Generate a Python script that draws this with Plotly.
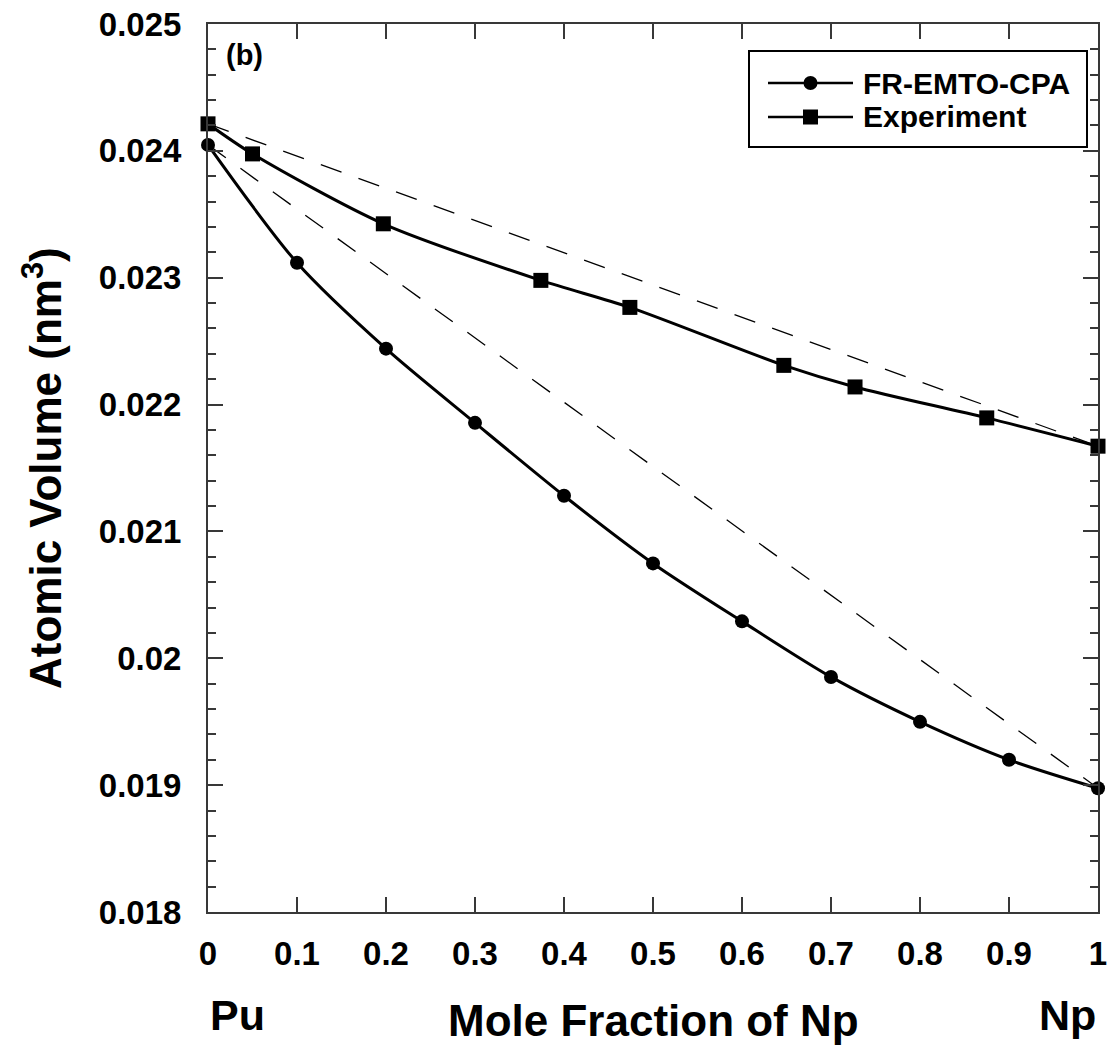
import plotly.graph_objects as go

# ---------------- data ----------------
calc_x = [0.0, 0.1, 0.2, 0.3, 0.4, 0.5, 0.6, 0.7, 0.8, 0.9, 1.0]
calc_y = [0.024047, 0.023118, 0.022441, 0.021856, 0.021281, 0.020748,
          0.020291, 0.019853, 0.019499, 0.019200, 0.018976]

exp_x = [0.0, 0.05, 0.197, 0.374, 0.474, 0.647, 0.727, 0.875, 1.0]
exp_y = [0.024213, 0.023976, 0.023425, 0.022979, 0.022766, 0.022309,
         0.022139, 0.021895, 0.021672]

x_tickvals = [0, 0.1, 0.2, 0.3, 0.4, 0.5, 0.6, 0.7, 0.8, 0.9, 1.0]
x_ticktext = ["0", "0.1", "0.2", "0.3", "0.4", "0.5", "0.6", "0.7", "0.8", "0.9", "1"]
y_tickvals = [0.018, 0.019, 0.020, 0.021, 0.022, 0.023, 0.024, 0.025]
y_ticktext = ["0.018", "0.019", "0.02", "0.021", "0.022", "0.023", "0.024", "0.025"]

series_names = ["FR-EMTO-CPA", "Experiment"]

FONT = "Liberation Sans, Arial, sans-serif"
AX = "#383838"

fig = go.Figure()

# dashed reference lines between the end members
fig.add_trace(go.Scatter(x=[exp_x[0], exp_x[-1]], y=[exp_y[0], exp_y[-1]], mode="lines",
                         line=dict(color="black", width=1.3, dash="22px,18px"),
                         showlegend=False, hoverinfo="skip"))
fig.add_trace(go.Scatter(x=[calc_x[0], calc_x[-1]], y=[calc_y[0], calc_y[-1]], mode="lines",
                         line=dict(color="black", width=1.3, dash="22px,18px"),
                         showlegend=False, hoverinfo="skip"))

fig.add_trace(go.Scatter(x=calc_x, y=calc_y, mode="lines+markers", name=series_names[0],
                         line=dict(color="black", width=3, shape="spline", smoothing=0.8),
                         marker=dict(symbol="circle", size=14, color="black"),
                         cliponaxis=False, showlegend=False))
fig.add_trace(go.Scatter(x=exp_x, y=exp_y, mode="lines+markers", name=series_names[1],
                         line=dict(color="black", width=3, shape="spline", smoothing=0.8),
                         marker=dict(symbol="square", size=15, color="black"),
                         cliponaxis=False, showlegend=False))

# ---------------- layout ----------------
L, R, T, B = 208, 10, 24, 134
W, H = 1108, 1046
pw, ph = W - L - R, H - T - B


def px2x(px):
    return (px - L) / pw


def py2y(py):
    return (H - B - py) / ph


fig.update_layout(
    width=W, height=H,
    margin=dict(l=L, r=R, t=T, b=B, pad=0, autoexpand=False),
    paper_bgcolor="white", plot_bgcolor="white",
    font=dict(family=FONT, color="black"),
    showlegend=False,
)

fig.update_xaxes(
    range=[0, 1], showgrid=False, zeroline=False, automargin=False,
    showline=True, linecolor=AX, linewidth=2, mirror="ticks",
    ticks="inside", ticklen=15, tickwidth=1.5, tickcolor=AX,
    tickvals=x_tickvals, ticktext=x_ticktext,
    tickfont=dict(family=FONT, size=33, color="black", weight="bold"),
    ticklabelstandoff=11,
)
fig.update_yaxes(
    range=[0.018, 0.025], showgrid=False, zeroline=False, automargin=False,
    showline=True, linecolor=AX, linewidth=2, mirror="ticks",
    ticks="inside", ticklen=15, tickwidth=1.5, tickcolor=AX,
    tickvals=y_tickvals, ticktext=y_ticktext,
    tickfont=dict(family=FONT, size=33, color="black", weight="bold"),
    ticklabelstandoff=18,
    minor=dict(ticks="inside", ticklen=8, tickwidth=1.5, tickcolor=AX, dtick=0.0002,
               showgrid=False),
)

annotations = [
    dict(text="Mole Fraction of Np", x=0.5, xref="paper", y=py2y(1020), yref="paper",
         showarrow=False, font=dict(family=FONT, size=44, weight="bold"),
         xanchor="center", yanchor="middle"),
    dict(text="Pu", x=0, xref="paper", y=py2y(1015), yref="paper",
         showarrow=False, font=dict(family=FONT, size=43, weight="bold"),
         xanchor="left", yanchor="middle"),
    dict(text="Np", x=1, xref="paper", y=py2y(1015), yref="paper",
         showarrow=False, font=dict(family=FONT, size=43, weight="bold"),
         xanchor="right", yanchor="middle"),
    dict(text="Atomic Volume (nm<sup>3</sup>)", x=px2x(42), xref="paper", y=0.5, yref="paper",
         showarrow=False, font=dict(family=FONT, size=44, weight="bold"),
         textangle=-90, xanchor="center", yanchor="middle"),
    dict(text="(b)", x=px2x(224), xref="paper", y=py2y(55), yref="paper",
         showarrow=False, font=dict(family=FONT, size=29, weight="bold"),
         xanchor="left", yanchor="middle"),
]

# ---------------- custom legend ----------------
box = dict(x0=px2x(749), x1=px2x(1087), y0=py2y(147), y1=py2y(51))
shapes = [dict(type="rect", xref="paper", yref="paper", **box,
               line=dict(color="black", width=2), fillcolor="white", layer="above")]
rows = [(83, "circle", 14), (117, "square", 15)]
for (py, sym, sz), name in zip(rows, series_names):
    yy = py2y(py)
    shapes.append(dict(type="line", xref="paper", yref="paper", x0=px2x(768), x1=px2x(853),
                       y0=yy, y1=yy, line=dict(color="black", width=2.5), layer="above"))
    cx = px2x(810.5)
    shapes.append(dict(type="circle" if sym == "circle" else "rect",
                       xref="paper", yref="paper", xsizemode="pixel", ysizemode="pixel",
                       xanchor=cx, yanchor=yy, x0=-sz / 2, x1=sz / 2, y0=-sz / 2, y1=sz / 2,
                       fillcolor="black", line=dict(color="black", width=0), layer="above"))
    annotations.append(dict(text=name, x=px2x(861), xref="paper", y=yy, yref="paper",
                            showarrow=False, font=dict(family=FONT, size=30, weight="bold"),
                            xanchor="left", yanchor="middle"))

fig.update_layout(annotations=annotations, shapes=shapes)

fig.write_html("out.html")
